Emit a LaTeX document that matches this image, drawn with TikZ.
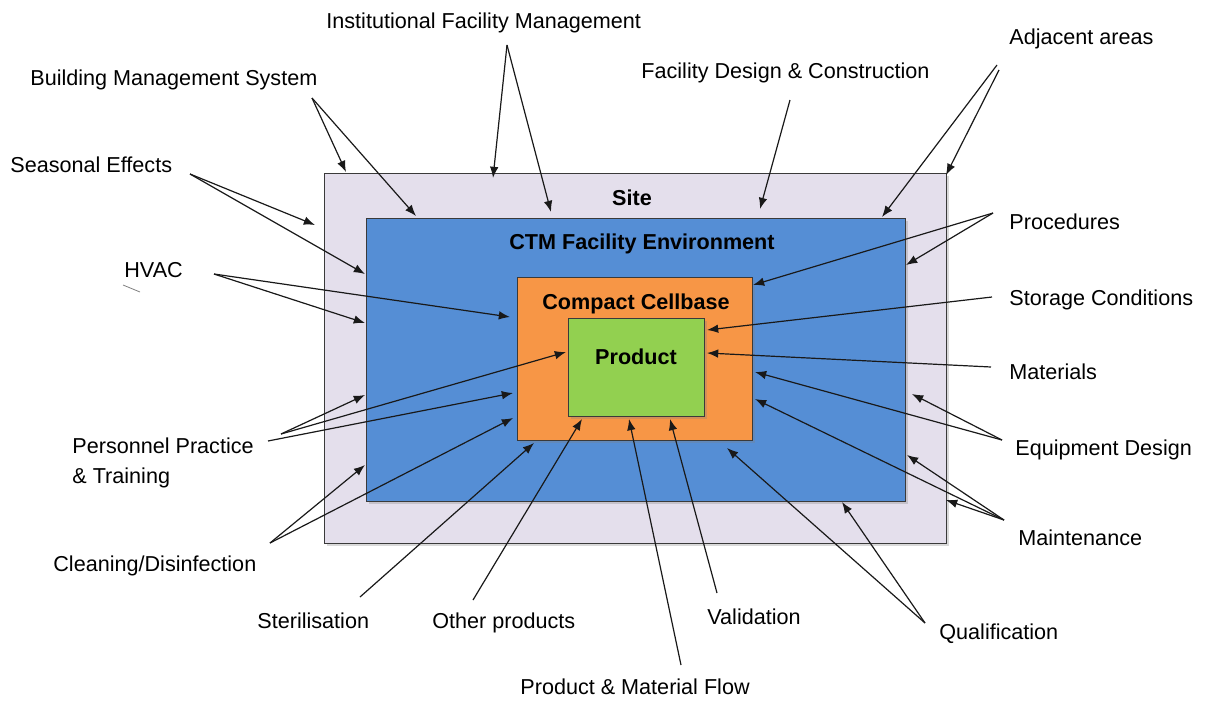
\documentclass[tikz,border=0pt]{standalone}
\usepackage{fontspec}
\setmainfont{Liberation Sans}
\usepackage{tikz}
\usepackage{xcolor}
\usetikzlibrary{arrows.meta,shadows}
\definecolor{Site_Lilac}{HTML}{E4DFEC}
\definecolor{CTM_Blue}{HTML}{558ED5}
\definecolor{Cell_Orange}{HTML}{F79646}
\definecolor{Prod_Green}{HTML}{92D050}
\definecolor{Ink_Gray}{HTML}{3A3A3A}

\tikzset{
  zone/.style={draw=Ink_Gray, line width=0.65pt, inner sep=0pt, anchor=north west,
    drop shadow={opacity=0.3, shadow xshift=1.2pt, shadow yshift=-1.2pt}},
  zonelabel/.style={font=\fontsize{10.8}{13}\selectfont\bfseries, anchor=base, inner sep=0pt},
  factor/.style={font=\fontsize{10.8}{13}\selectfont, anchor=base west, inner sep=0pt},
  feed/.style={-{Latex[length=5.6pt,width=4.3pt]}, line width=0.6pt, black!90}
}

\begin{document}
\begin{tikzpicture}[x=0.5pt, y=-0.5pt]
    \useasboundingbox (0,0) rectangle (1205,702);

    % Nested zones, outermost first
    \node[zone, fill=Site_Lilac, minimum width=311pt, minimum height=185pt] (site) at (324,173) {};
    \node[zone, fill=CTM_Blue, minimum width=269.5pt, minimum height=141.5pt] (ctm) at (366,218) {};
    \node[zone, fill=Cell_Orange, minimum width=117.5pt, minimum height=81.5pt] (cell) at (517,277) {};
    \node[zone, fill=Prod_Green, minimum width=68pt, minimum height=49pt] (prod) at (568,318) {};

    \node[zonelabel] (siteLbl) at (632,205) {Site};
    \node[zonelabel] (ctmLbl) at (642,249) {CTM Facility Environment};
    \node[zonelabel] (cellLbl) at (636,309) {Compact Cellbase};
    \node[zonelabel] (prodLbl) at (636,364) {Product};

    % Influencing factors round the zones
    \node[factor] (ifm) at (326,28) {Institutional Facility Management};
    \node[factor] (bms) at (30,85) {Building Management System};
    \node[factor] (seasonal) at (10,172) {Seasonal Effects};
    \node[factor] (hvac) at (124,277) {HVAC};
    \node[factor] (fdc) at (641,78) {Facility Design \& Construction};
    \node[factor] (adjacent) at (1009,44) {Adjacent areas};
    \node[factor] (procedures) at (1009,229) {Procedures};
    \node[factor] (storage) at (1009,305) {Storage Conditions};
    \node[factor] (materials) at (1009,379) {Materials};
    \node[factor] (equipment) at (1015,455) {Equipment Design};
    \node[factor] (maintenance) at (1018,545) {Maintenance};
    \node[factor] (qualification) at (939,639) {Qualification};
    \node[factor] (validation) at (707,624) {Validation};
    \node[factor] (pmflow) at (520,694) {Product \& Material Flow};
    \node[factor] (other) at (432,628) {Other products};
    \node[factor] (steril) at (257,628) {Sterilisation};
    \node[factor] (cleaning) at (53,571) {Cleaning/Disinfection};
    \node[factor, align=left, anchor=north west] (personnel) at (72,437) {Personnel Practice\\[2pt]\& Training};

    % small pen stroke under HVAC
    \draw[gray, line width=0.4pt] (123,285) -- (140,292);

    % Arrow tails (near the labels) and heads (on the zones)
    \coordinate (ifm-t) at (507,45);
    \coordinate (ifm-h1) at (493,178);
    \coordinate (ifm-h2) at (551,212);
    \coordinate (bms-t) at (312,98);
    \coordinate (bms-h1) at (346,172);
    \coordinate (bms-h2) at (416,216);
    \coordinate (seasonal-t) at (190,174);
    \coordinate (seasonal-h1) at (315,225);
    \coordinate (seasonal-h2) at (365,274);
    \coordinate (hvac-t) at (214,274);
    \coordinate (hvac-h1) at (365,323);
    \coordinate (hvac-h2) at (510,317);
    \coordinate (personnel-t1) at (281,434);
    \coordinate (personnel-t2) at (268,441);
    \coordinate (personnel-h1) at (365,395);
    \coordinate (personnel-h2) at (513,393);
    \coordinate (personnel-h3) at (566,352);
    \coordinate (cleaning-t) at (270,543);
    \coordinate (cleaning-h1) at (365,465);
    \coordinate (cleaning-h2) at (513,418);
    \coordinate (steril-t) at (360,597);
    \coordinate (steril-h) at (534,443);
    \coordinate (other-t) at (473,600);
    \coordinate (other-h) at (582,419);
    \coordinate (pmflow-t) at (681,665);
    \coordinate (pmflow-h) at (629,419);
    \coordinate (validation-t) at (717,593);
    \coordinate (validation-h) at (670,419);
    \coordinate (qualification-t) at (925,623);
    \coordinate (qualification-h1) at (727,448);
    \coordinate (qualification-h2) at (842,502);
    \coordinate (maintenance-t) at (1004,520);
    \coordinate (maintenance-h1) at (907,455);
    \coordinate (maintenance-h2) at (946,500);
    \coordinate (maintenance-h3) at (755,399);
    \coordinate (equipment-t) at (1002,440);
    \coordinate (equipment-h1) at (912,394);
    \coordinate (equipment-h2) at (755,372);
    \coordinate (materials-t) at (991,367);
    \coordinate (materials-h) at (707,353);
    \coordinate (storage-t) at (992,297);
    \coordinate (storage-h) at (707,330);
    \coordinate (procedures-t) at (993,213);
    \coordinate (procedures-h1) at (753,285);
    \coordinate (procedures-h2) at (906,265);
    \coordinate (adjacent-t1) at (997,65);
    \coordinate (adjacent-t2) at (999,70);
    \coordinate (adjacent-h1) at (882,217);
    \coordinate (adjacent-h2) at (946,175);
    \coordinate (fdc-t) at (790,100);
    \coordinate (fdc-h) at (760,209);

    % Left and top
    \draw[feed] (ifm-t) -- (ifm-h1);
    \draw[feed] (ifm-t) -- (ifm-h2);
    \draw[feed] (bms-t) -- (bms-h1);
    \draw[feed] (bms-t) -- (bms-h2);
    \draw[feed] (seasonal-t) -- (seasonal-h1);
    \draw[feed] (seasonal-t) -- (seasonal-h2);
    \draw[feed] (hvac-t) -- (hvac-h1);
    \draw[feed] (hvac-t) -- (hvac-h2);
    \draw[feed] (personnel-t1) -- (personnel-h1);
    \draw[feed] (personnel-t2) -- (personnel-h2);
    \draw[feed] (personnel-t1) -- (personnel-h3);
    \draw[feed] (cleaning-t) -- (cleaning-h1);
    \draw[feed] (cleaning-t) -- (cleaning-h2);

    % Bottom
    \draw[feed] (steril-t) -- (steril-h);
    \draw[feed] (other-t) -- (other-h);
    \draw[feed] (pmflow-t) -- (pmflow-h);
    \draw[feed] (validation-t) -- (validation-h);
    \draw[feed] (qualification-t) -- (qualification-h1);
    \draw[feed] (qualification-t) -- (qualification-h2);

    % Right
    \draw[feed] (maintenance-t) -- (maintenance-h1);
    \draw[feed] (maintenance-t) -- (maintenance-h2);
    \draw[feed] (maintenance-t) -- (maintenance-h3);
    \draw[feed] (equipment-t) -- (equipment-h1);
    \draw[feed] (equipment-t) -- (equipment-h2);
    \draw[feed] (materials-t) -- (materials-h);
    \draw[feed] (storage-t) -- (storage-h);
    \draw[feed] (procedures-t) -- (procedures-h1);
    \draw[feed] (procedures-t) -- (procedures-h2);
    \draw[feed] (adjacent-t1) -- (adjacent-h1);
    \draw[feed] (adjacent-t2) -- (adjacent-h2);
    \draw[feed] (fdc-t) -- (fdc-h);

\end{tikzpicture}
\end{document}
